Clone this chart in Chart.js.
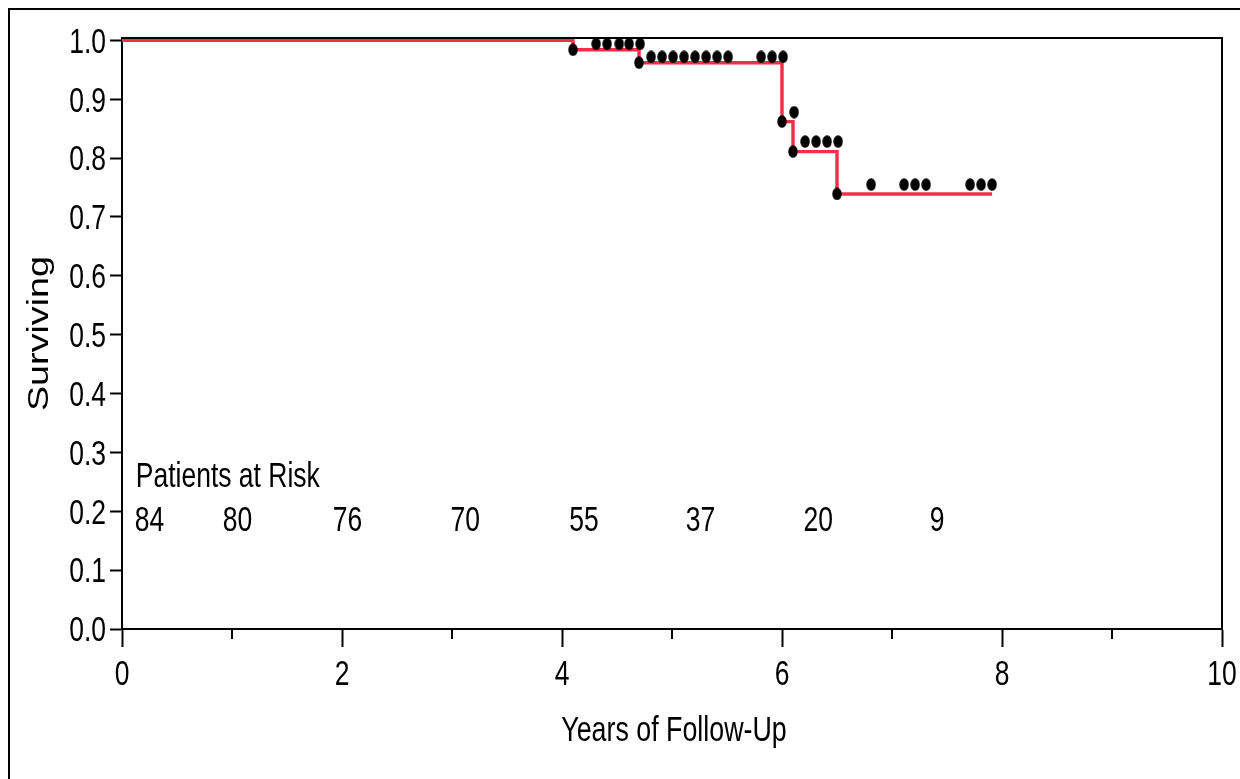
<!DOCTYPE html>
<html>
<head>
<meta charset="utf-8">
<script src="https://cdn.jsdelivr.net/npm/chart.js@4.4.1/dist/chart.umd.min.js"></script>
<style>
  html, body { margin: 0; padding: 0; background: #fff; overflow: hidden; }
  #wrap { width: 1240px; height: 779px; position: relative; }
</style>
</head>
<body>
<div id="wrap"><canvas id="km" width="1240" height="779"></canvas></div>
<script>
// Kaplan-Meier curve (step points)
const stepTimes = [0, 4.1, 4.7, 6.0, 6.1, 6.5, 7.91];
const stepSurv  = [1.0, 0.984, 0.962, 0.862, 0.811, 0.739, 0.739];

// events (marks at the drops)
const eventTimes = [4.1, 4.7, 6.0, 6.1, 6.5];
const eventSurv  = [0.984, 0.962, 0.862, 0.811, 0.739];

// censored patients
const censorTimes = [4.31, 4.41, 4.52, 4.61, 4.71,
                     4.81, 4.91, 5.01, 5.11, 5.21, 5.31, 5.41, 5.51, 5.81, 5.91, 6.01,
                     6.11,
                     6.21, 6.31, 6.41, 6.51,
                     6.81, 7.11, 7.21, 7.31, 7.71, 7.81, 7.91];
const censorSurv  = [0.994, 0.994, 0.994, 0.994, 0.994,
                     0.972, 0.972, 0.972, 0.972, 0.972, 0.972, 0.972, 0.972, 0.972, 0.972, 0.972,
                     0.878,
                     0.828, 0.828, 0.828, 0.828,
                     0.755, 0.755, 0.755, 0.755, 0.755, 0.755, 0.755];

// patients at risk
const riskTimes  = [0.25, 1.05, 2.05, 3.12, 4.2, 5.26, 6.33, 7.41];
const riskCounts = [84, 80, 76, 70, 55, 37, 20, 9];

const xTickValues = [0, 1, 2, 3, 4, 5, 6, 7, 8, 9, 10];
const yTickValues = [0, 0.1, 0.2, 0.3, 0.4, 0.5, 0.6, 0.7, 0.8, 0.9, 1.0];

const FONT = "'Liberation Sans', Arial, sans-serif";
const RED = '#f03048';
const STRETCH = 1.3;   // the original text is drawn taller than wide

function ellipseMark(w, h) {
  const c = document.createElement('canvas');
  c.width = w; c.height = h;
  const g = c.getContext('2d');
  g.fillStyle = '#000';
  g.beginPath();
  g.ellipse(w / 2, h / 2, w / 2 - 0.3, h / 2 - 0.3, 0, 0, Math.PI * 2);
  g.fill();
  return c;
}
const dot = ellipseMark(10, 13);

const toPoints = (xs, ys) => xs.map((x, i) => ({ x: x, y: ys[i] }));

// text drawn tall and narrow, baseline at (x, y)
function tallText(ctx, str, x, y, size, align, rot) {
  ctx.save();
  ctx.translate(x, y);
  if (rot) {
    ctx.rotate(-Math.PI / 2);
    ctx.scale(STRETCH, 1);
  } else {
    ctx.scale(1, STRETCH);
  }
  ctx.font = size + 'px ' + FONT;
  ctx.textAlign = align;
  ctx.textBaseline = 'alphabetic';
  ctx.fillStyle = '#000';
  ctx.fillText(str, 0, 0);
  ctx.restore();
}

const TICK_SIZE = 26.5;
const digitH = TICK_SIZE * 0.716 * STRETCH;

// frame, plot box, minor ticks, labels and the at-risk table
const kmDecor = {
  id: 'kmDecor',
  beforeDraw(chart) {
    const ctx = chart.ctx;
    ctx.save();
    ctx.strokeStyle = '#000';
    ctx.lineWidth = 2;
    ctx.strokeRect(9, 9, 1400, 1000);
    ctx.restore();
  },
  afterDraw(chart) {
    const ctx = chart.ctx;
    const a = chart.chartArea;
    const xs = chart.scales.x, ys = chart.scales.y;
    ctx.save();
    ctx.strokeStyle = '#000';
    ctx.lineWidth = 2;
    ctx.beginPath();
    ctx.moveTo(a.left, a.top);
    ctx.lineTo(a.right, a.top);
    ctx.lineTo(a.right, a.bottom);
    ctx.stroke();

    // minor ticks at odd years
    xTickValues.filter(v => v % 2 === 1).forEach(v => {
      const px = Math.round(xs.getPixelForValue(v));
      ctx.beginPath();
      ctx.moveTo(px, a.bottom);
      ctx.lineTo(px, a.bottom + 10);
      ctx.stroke();
    });
    ctx.restore();

    // tick labels
    yTickValues.forEach(v => {
      tallText(ctx, v.toFixed(1), a.left - 16, ys.getPixelForValue(v) + digitH / 2, TICK_SIZE, 'right');
    });
    xTickValues.filter(v => v % 2 === 0).forEach(v => {
      tallText(ctx, String(v), xs.getPixelForValue(v), a.bottom + 56, TICK_SIZE, 'center');
    });

    // axis titles
    tallText(ctx, 'Years of Follow-Up', (a.left + a.right) / 2 + 2, 741, 26.8, 'center');
    tallText(ctx, 'Surviving', 48, (a.top + a.bottom) / 2, 29, 'center', true);

    // patients at risk
    tallText(ctx, 'Patients at Risk', xs.getPixelForValue(0.125), ys.getPixelForValue(0.242), TICK_SIZE, 'left');
    riskCounts.forEach((n, i) => {
      tallText(ctx, String(n), xs.getPixelForValue(riskTimes[i]), ys.getPixelForValue(0.167), TICK_SIZE, 'center');
    });
  }
};

new Chart(document.getElementById('km'), {
  type: 'line',
  data: {
    datasets: [
      {
        label: 'Censored',
        data: toPoints(censorTimes, censorSurv),
        showLine: false,
        pointStyle: dot,
        pointRadius: 6
      },
      {
        label: 'Events',
        data: toPoints(eventTimes, eventSurv),
        showLine: false,
        pointStyle: dot,
        pointRadius: 6
      },
      {
        label: 'Surviving',
        data: toPoints(stepTimes, stepSurv),
        stepped: 'before',
        borderColor: RED,
        borderWidth: 3.4,
        pointRadius: 0,
        fill: false
      }
    ]
  },
  options: {
    responsive: false,
    devicePixelRatio: 1,
    animation: false,
    layout: { padding: { top: 38, right: 18, left: 0, bottom: 0 } },
    plugins: { legend: { display: false }, tooltip: { enabled: false } },
    scales: {
      x: {
        type: 'linear',
        min: 0,
        max: 10,
        afterBuildTicks: s => { s.ticks = xTickValues.map(v => ({ value: v })); },
        afterFit: s => { s.height = 150; s.paddingLeft = 0; s.paddingRight = 0; },
        ticks: { display: false, autoSkip: false },
        grid: {
          drawOnChartArea: false,
          drawTicks: true,
          tickLength: 18,
          tickWidth: 2,
          tickColor: c => (c.tick && c.tick.value % 2 === 1 ? 'rgba(0,0,0,0)' : '#000')
        },
        border: { display: true, color: '#000', width: 2 }
      },
      y: {
        type: 'linear',
        min: 0,
        max: 1.004,
        afterBuildTicks: s => { s.ticks = yTickValues.map(v => ({ value: v })); },
        afterFit: s => { s.width = 122; s.paddingTop = 0; s.paddingBottom = 0; },
        ticks: { display: false, autoSkip: false },
        grid: {
          drawOnChartArea: false,
          drawTicks: true,
          tickLength: 12,
          tickWidth: 2,
          tickColor: '#000'
        },
        border: { display: true, color: '#000', width: 2 }
      }
    }
  },
  plugins: [kmDecor]
});
</script>
</body>
</html>
